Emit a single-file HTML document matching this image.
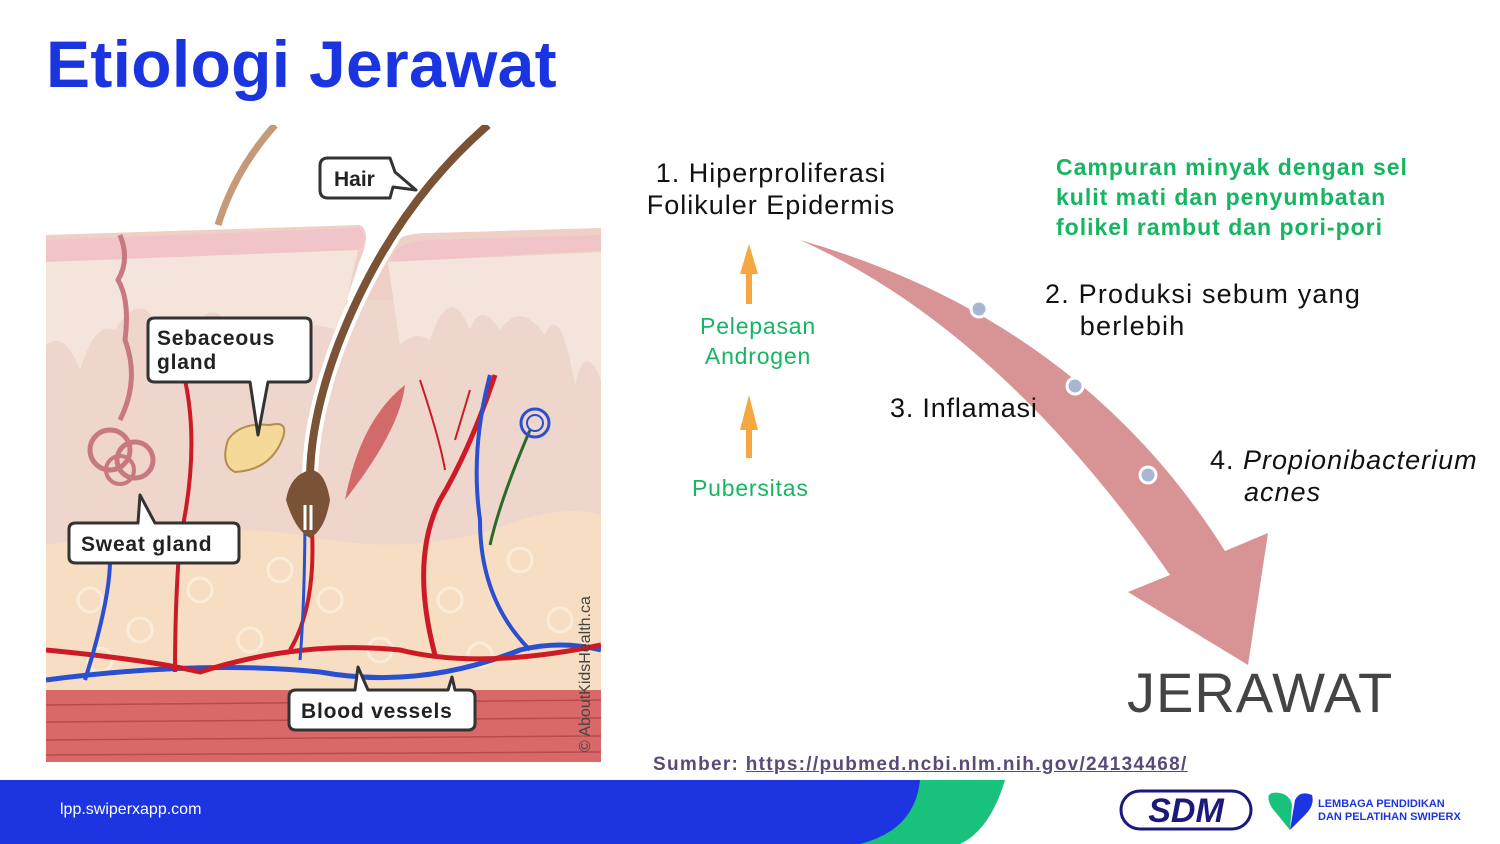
<!DOCTYPE html>
<html><head><meta charset="utf-8"><style>
body{margin:0;width:1500px;height:844px;overflow:hidden;background:#fff;font-family:"Liberation Sans",sans-serif;position:relative}
.a{position:absolute;white-space:nowrap}
</style></head><body>
<div class="a" style="left:46px;top:26px;font-size:66px;font-weight:bold;color:#1a35e0;letter-spacing:0.3px">Etiologi Jerawat</div>

<svg class="a" style="left:0;top:0" width="1500" height="844">
<defs><clipPath id="c"><rect x="46" y="125" width="555" height="637"/></clipPath></defs>
<g clip-path="url(#c)">
<rect x="46" y="125" width="555" height="637" fill="#fff"/>
<path d="M275 125 Q235 170 218 225" stroke="#c49a78" stroke-width="7" fill="none"/>
<path d="M46 235 L360 225 Q372 232 360 260 L300 440 L46 460Z" fill="#eed0c6"/>
<path d="M380 250 Q400 232 430 233 L601 228 L601 520 L300 520Z" fill="#eed0c6"/>
<rect x="46" y="300" width="555" height="250" fill="#efd6cc"/>
<path d="M46 240 L360 228 Q368 236 360 250 L46 262Z" fill="#f0c4c8"/>
<path d="M395 250 Q410 240 430 240 L601 235 L601 250 L390 262Z" fill="#f0c4c8"/>
<path d="M46 262 L358 250 L340 330 Q300 320 285 330 Q255 300 235 340 Q215 290 195 330 Q175 320 165 345 Q145 280 115 330 Q95 320 80 370 Q65 330 46 345Z" fill="#f5e4dc"/>
<path d="M388 262 L601 252 L601 380 Q585 340 575 385 Q560 300 545 335 Q520 300 500 330 Q480 300 470 330 Q450 280 430 340 Q415 330 400 345Z" fill="#f5e4dc"/>
<path d="M46 545 Q200 520 300 535 Q420 560 520 520 Q570 505 601 515 L601 700 L46 700Z" fill="#f7dec2"/>
<g fill="none" stroke="#fbeedd" stroke-width="3" opacity="0.9">
<circle cx="90" cy="600" r="12"/><circle cx="140" cy="630" r="12"/><circle cx="200" cy="590" r="12"/><circle cx="250" cy="640" r="12"/><circle cx="330" cy="600" r="12"/><circle cx="380" cy="650" r="12"/><circle cx="450" cy="600" r="12"/><circle cx="520" cy="560" r="12"/><circle cx="560" cy="620" r="12"/><circle cx="480" cy="655" r="12"/><circle cx="100" cy="660" r="12"/><circle cx="280" cy="570" r="12"/>
</g>
<rect x="46" y="690" width="555" height="72" fill="#d96868"/>
<g stroke="#b84a4e" stroke-width="1.5"><line x1="46" y1="705" x2="601" y2="700"/><line x1="46" y1="722" x2="601" y2="718"/><line x1="46" y1="740" x2="601" y2="736"/><line x1="46" y1="755" x2="601" y2="752"/></g>
<path d="M46 680 Q200 660 320 672 Q420 690 520 650 Q560 640 601 650" stroke="#2a4fd0" stroke-width="5" fill="none"/>
<path d="M46 650 Q150 660 200 672 Q300 640 400 650 Q480 670 601 645" stroke="#cc1b26" stroke-width="5" fill="none"/>
<path d="M85 680 Q110 600 110 560" stroke="#2a4fd0" stroke-width="4" fill="none"/>
<path d="M175 672 Q175 600 180 540 Q200 450 185 380" stroke="#cc1b26" stroke-width="4" fill="none"/>
<path d="M310 505 Q320 600 290 650" stroke="#cc1b26" stroke-width="4" fill="none"/>
<path d="M305 505 Q305 600 300 660" stroke="#2a4fd0" stroke-width="3" fill="none"/>
<path d="M435 655 Q410 560 440 500 Q470 450 495 375" stroke="#cc1b26" stroke-width="5" fill="none"/>
<path d="M530 650 Q480 600 480 520 Q470 450 490 375" stroke="#2a4fd0" stroke-width="4" fill="none"/>
<path d="M420 380 Q440 440 445 470 M470 390 L455 440" stroke="#cc1b26" stroke-width="2" fill="none"/>
<path d="M490 545 Q500 500 530 430" stroke="#2a6b2a" stroke-width="3" fill="none"/>
<circle cx="535" cy="423" r="14" fill="none" stroke="#2a4fd0" stroke-width="3"/><circle cx="535" cy="423" r="8" fill="none" stroke="#2a4fd0" stroke-width="2"/>
<path d="M120 235 Q130 260 118 280 Q130 300 125 340 Q140 380 120 420" stroke="#c87880" stroke-width="5" fill="none"/>
<circle cx="110" cy="450" r="20" fill="none" stroke="#c87880" stroke-width="5"/><circle cx="135" cy="460" r="18" fill="none" stroke="#c87880" stroke-width="5"/><circle cx="120" cy="470" r="14" fill="none" stroke="#c87880" stroke-width="4"/>
<path d="M228 440 Q240 422 270 425 Q290 420 282 440 Q270 470 235 472 Q220 465 228 440Z" fill="#f5d999" stroke="#b08e50" stroke-width="2"/>
<path d="M345 500 Q360 420 405 385 Q400 430 345 500Z" fill="#d36a6a"/>
<path d="M488 125 Q390 210 338 345 Q310 420 310 480" stroke="#fff" stroke-width="16" fill="none"/>
<path d="M488 125 Q390 210 338 345 Q310 420 310 480" stroke="#7a5236" stroke-width="8" fill="none"/>
<path d="M286 500 Q295 530 310 538 Q325 530 330 500 Q325 470 310 470 Q290 475 286 500Z" fill="#7a5236"/>
<path d="M305 505 L305 530 M311 505 L311 530" stroke="#fff" stroke-width="3"/>
</g>
<g font-family="Liberation Sans,sans-serif" font-weight="bold" font-size="21" fill="#222" stroke-linejoin="round">
<path d="M328 158 H390 L395 172 L416 190 L393 187 L390 198 H328 Q320 198 320 190 V166 Q320 158 328 158Z" fill="#fff" stroke="#333" stroke-width="3"/>
<text x="334" y="186">Hair</text>
<path d="M155 318 H305 Q311 318 311 324 V376 Q311 382 305 382 H268 L258 435 L250 382 H155 Q148 382 148 376 V324 Q148 318 155 318Z" fill="#fff" stroke="#333" stroke-width="3"/>
<text x="157" y="345" letter-spacing="0.8">Sebaceous</text><text x="157" y="369" letter-spacing="0.8">gland</text>
<path d="M76 523 H138 L140 495 L155 523 H233 Q239 523 239 529 V557 Q239 563 233 563 H76 Q69 563 69 557 V529 Q69 523 76 523Z" fill="#fff" stroke="#333" stroke-width="3"/>
<text x="81" y="551" letter-spacing="0.8">Sweat gland</text>
<path d="M296 690 H355 L358 667 L368 690 H448 L452 677 L455 690 H468 Q475 690 475 697 V723 Q475 730 468 730 H296 Q289 730 289 723 V697 Q289 690 296 690Z" fill="#fff" stroke="#333" stroke-width="3"/>
<text x="301" y="718" letter-spacing="0.8">Blood vessels</text>
</g>
<text transform="translate(590,752) rotate(-90)" font-family="Liberation Sans,sans-serif" font-size="16" fill="#444">© AboutKidsHealth.ca</text>

<path d="M800 240 Q1080 320 1225 551 L1268 533 L1248 665 L1128 592 L1170 575 Q1000 330 800 240Z" fill="#d89494"/>
<g fill="#a9b6d2" stroke="#fff" stroke-width="3"><circle cx="979" cy="309" r="8"/><circle cx="1075" cy="386" r="8"/><circle cx="1148" cy="475" r="8"/></g>
<g fill="#f5a742"><path d="M746 304 h6 v-30 h6 l-9 -30 l-9 30 h6Z"/><path d="M746 458 h6 v-28 h6 l-9 -35 l-9 35 h6Z"/></g>
<path d="M0 780 H1005 Q990 830 960 844 H0Z" fill="#18c27c"/>
<path d="M0 780 H920 Q915 830 860 844 H0Z" fill="#1c35e0"/>
<rect x="1121" y="791" width="130" height="38" rx="19" fill="none" stroke="#1a1a7a" stroke-width="3"/>
<text x="1186" y="822" text-anchor="middle" font-family="Liberation Sans,sans-serif" font-weight="bold" font-size="34" fill="#1a1a7a" font-style="italic">SDM</text>
<path d="M1290 830 L1272 808 Q1262 790 1280 793 Q1290 795 1292 805Z" fill="#18c27c"/>
<path d="M1290 830 L1295 800 Q1300 790 1312 795 Q1315 805 1305 815Z" fill="#1c35e0"/>
</svg>

<div class="a" style="left:632px;top:157px;font-size:27px;color:#111;text-align:center;width:278px;line-height:32px;white-space:normal;letter-spacing:1px">1. Hiperproliferasi Folikuler Epidermis</div>
<div class="a" style="left:1056px;top:152px;font-size:23px;font-weight:bold;color:#15b562;line-height:30px;letter-spacing:1px">Campuran minyak dengan sel<br>kulit mati dan penyumbatan<br>folikel rambut dan pori-pori</div>
<div class="a" style="left:1045px;top:278px;font-size:27px;color:#111;line-height:32px;letter-spacing:1.2px">2. Produksi sebum yang<br>&nbsp;&nbsp;&nbsp;&nbsp;berlebih</div>
<div class="a" style="left:890px;top:393px;font-size:27px;color:#111;letter-spacing:0.8px">3. Inflamasi</div>
<div class="a" style="left:1210px;top:444px;font-size:27px;color:#111;line-height:32px;letter-spacing:1px">4. <i>Propionibacterium</i><br>&nbsp;&nbsp;&nbsp;&nbsp;<i>acnes</i></div>
<div class="a" style="left:680px;top:311px;font-size:23px;color:#15b562;text-align:center;width:156px;line-height:30px;white-space:normal;letter-spacing:0.8px">Pelepasan Androgen</div>
<div class="a" style="left:692px;top:475px;font-size:23px;color:#15b562;letter-spacing:0.8px">Pubersitas</div>
<div class="a" style="left:1127px;top:660px;font-size:56px;color:#444;letter-spacing:1px">JERAWAT</div>
<div class="a" style="left:653px;top:754px;font-size:19px;font-weight:bold;color:#5a4a7a;letter-spacing:1.3px">Sumber: <u>https://pubmed.ncbi.nlm.nih.gov/24134468/</u></div>
<div class="a" style="left:60px;top:801px;font-size:16px;color:#fff">lpp.swiperxapp.com</div>
<div class="a" style="left:1318px;top:798px;font-size:11px;font-weight:bold;color:#1c35e0;line-height:13px">LEMBAGA PENDIDIKAN<br>DAN PELATIHAN SWIPERX</div>
</body></html>
